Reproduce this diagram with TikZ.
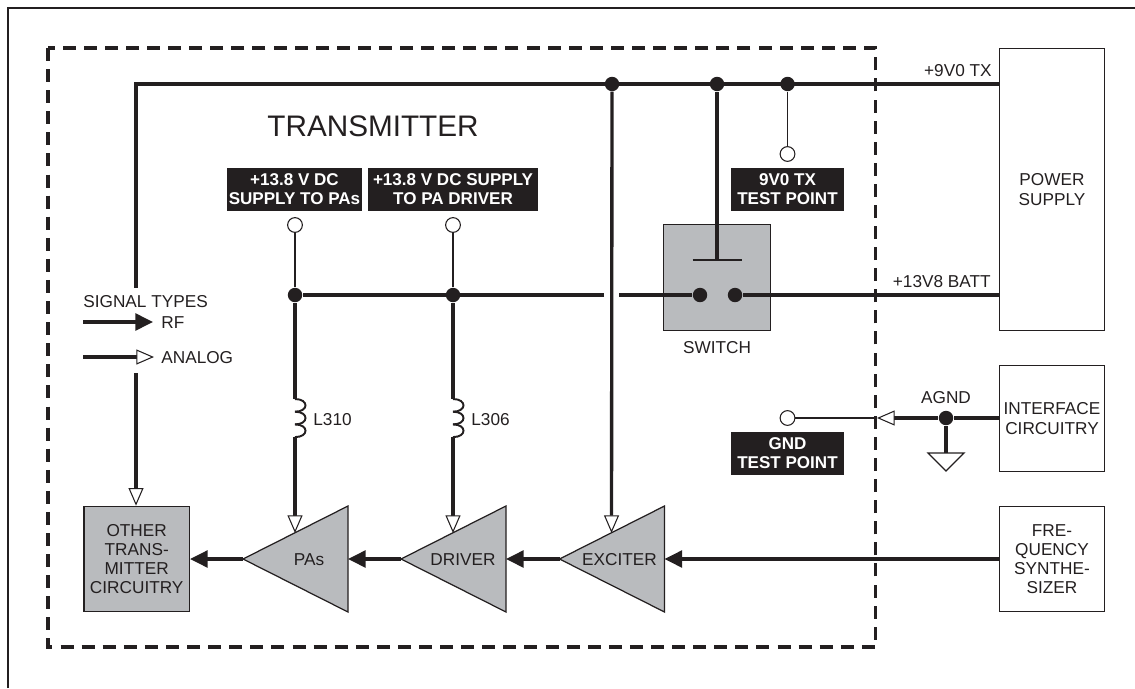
\documentclass[tikz,border=0pt]{standalone}
\usepackage{fontspec}
\setmainfont{Liberation Sans}
\usetikzlibrary{arrows.meta, positioning, calc}

\definecolor{inkdark}{HTML}{231F20}
\definecolor{blockgray}{HTML}{B9BBBE}

\tikzset{
  rfline/.style={draw=inkdark, line width=1.9pt},
  rfarrow/.style={rfline, -{Triangle[length=10pt, width=9.5pt]}},
  analogarrow/.style={rfline, -{Triangle[open, length=10pt, width=8.5pt, line width=0.6pt, fill=white]}},
  thinline/.style={draw=inkdark, line width=0.6pt},
  box/.style={draw=inkdark, line width=0.7pt, inner sep=0pt, align=center, text=inkdark},
  dot/.style={circle, fill=inkdark, inner sep=0pt, minimum size=8.2pt},
  tpoint/.style={circle, draw=inkdark, fill=white, line width=0.6pt, inner sep=0pt, minimum size=8.4pt},
  tag/.style={fill=inkdark, text=white, font=\bfseries\fontsize{9.7}{10.7}\selectfont, align=center, inner sep=0pt},
  lbl/.style={text=inkdark, inner sep=0pt, align=center},
}

\begin{document}
\begin{tikzpicture}[x=0.2mm, y=-0.2mm, font=\fontsize{9.8}{10.9}\selectfont]
\useasboundingbox (0,0) rectangle (1135,688);

% Outer frame and transmitter outline
\draw[inkdark, line width=1.1pt] (8,688) -- (8,8) -- (1135,8);
\draw[inkdark, line width=2pt, dash pattern=on 7.4pt off 4.6pt] (48,48) rectangle (875.7,647);
\node[lbl, font=\fontsize{16.9}{18}\selectfont] (title) at (373,126) {TRANSMITTER};

% Outside blocks
\node[box, minimum width=60pt, minimum height=160.4pt] (psu) at (1052,189.5) {POWER\\SUPPLY};
\node[box, minimum width=60pt, minimum height=60pt] (iface) at (1052,418.5) {INTERFACE\\CIRCUITRY};
\node[box, minimum width=60pt, minimum height=60pt] (synth) at (1052,559) {FRE-\\QUENCY\\SYNTHE-\\SIZER};

% Gray blocks
\node[box, fill=blockgray, minimum width=60pt, minimum height=60pt] (other) at (136.7,559) {OTHER\\TRANS-\\MITTER\\CIRCUITRY};
\node[box, fill=blockgray, minimum width=60.5pt, minimum height=60.5pt] (switch) at (717,277.5) {};
\node[lbl, below=5.5pt of switch] (switchlbl) {SWITCH};

% Amplifiers
\foreach \name/\x/\off/\txt in {pa/243/66/PAs, drv/401/62/DRIVER, exc/559.5/60/EXCITER} {
  \coordinate (\name-in) at (\x+105,559);
  \coordinate (\name-out) at (\x,559);
  \coordinate (\name-top) at (\x+52,533);
  \draw[draw=inkdark, fill=blockgray, line width=0.7pt] (\x,559) -- (\x+105,506) -- (\x+105,612) -- cycle;
  \node[lbl] (\name) at (\x+\off,560) {\txt};
}

% Test point tags
\node[tag, minimum width=76.5pt, minimum height=24.5pt] (tagpa) at (294.5,189.5) {+13.8 V DC\\SUPPLY TO PAs};
\node[tag, minimum width=96.5pt, minimum height=24.5pt] (tagdrv) at (453,189.5) {+13.8 V DC SUPPLY\\TO PA DRIVER};
\node[tag, minimum width=64pt, minimum height=24.5pt] (tagnine) at (787.5,189.5) {9V0 TX\\TEST POINT};
\node[tag, minimum width=64pt, minimum height=24.5pt] (taggnd) at (787.5,453.5) {GND\\TEST POINT};

% Test points
\node[tpoint] (tppa) at (295,225) {};
\node[tpoint] (tpdrv) at (453,225) {};
\node[tpoint] (tpnine) at (787.5,154) {};
\node[tpoint] (tpgnd) at (787.5,418) {};

% Junctions
\node[dot] (jpa) at (295,295) {};
\node[dot] (jdrv) at (453,295) {};
\node[dot] (jexc) at (612,84) {};
\node[dot] (jsw) at (717,84) {};
\node[dot] (jnine) at (787.5,84) {};
\node[dot] (jagnd) at (946,418) {};
\node[dot] (swa) at (700,295) {};
\node[dot] (swb) at (735,295) {};

% Free ends
\coordinate (railcorner) at (136,84);
\coordinate (gapa) at (604,295);
\coordinate (gapb) at (619,295);
\coordinate (gapc) at (136,288);
\coordinate (gapd) at (136,373);
\coordinate (barl) at (692.5,260);
\coordinate (barm) at (717,260);
\coordinate (barr) at (742,260);
\coordinate (gndtip) at (877,418);
\coordinate (gndtop) at (946,453);

% Supply rails
\draw[rfline] (psu.west |- jnine) -- (railcorner) -- (gapc);
\draw[analogarrow] (gapd) -- (other.north -| gapd);
\draw[rfline] (jsw) -- (barm);
\draw[rfline, line width=1.5pt] (barl) -- (barr);
\draw[rfline] (psu.west |- swb) -- (swb);
\draw[rfline] (swa) -- (gapb);
\draw[rfline] (gapa) -- (jpa);
\draw[analogarrow] (jexc) -- (exc-top);
\draw[thinline] (jnine) -- (tpnine);
\draw[thinline] (tppa) -- (jpa);
\draw[thinline] (tpdrv) -- (jdrv);

% Inductors
\foreach \name/\x/\txt/\j in {lpa/295/L310/jpa, ldrv/453/L306/jdrv} {
  \coordinate (\name-a) at (\x,399);
  \coordinate (\name-b) at (\x,437);
  \draw[rfline] (\j) -- (\name-a);
  \foreach \y in {399,411.7,424.4} {
    \draw[inkdark, line width=1.1pt] (\x,\y) .. controls (\x+14,\y) and (\x+14,\y+12.7) .. (\x,\y+12.7);
  }
  \node[lbl, anchor=west] (\name) at (\x+18,420) {\txt};
}
\draw[analogarrow] (lpa-b) -- (pa-top);
\draw[analogarrow] (ldrv-b) -- (drv-top);

% RF chain
\draw[rfarrow] (synth.west |- exc-in) -- (exc-in);
\draw[rfarrow] (exc-out) -- (drv-in);
\draw[rfarrow] (drv-out) -- (pa-in);
\draw[rfarrow] (pa-out) -- (other.east);

% Ground test point
\draw[thinline] (tpgnd) -- (gndtip);
\draw[analogarrow] (jagnd) -- (gndtip);
\draw[rfline] (iface.west |- jagnd) -- (jagnd);
\draw[rfline] (jagnd) -- (gndtop);
\draw[draw=inkdark, fill=white, line width=0.7pt] (928,453) -- (964,453) -- (946,471) -- cycle;

% Signal key
\node[lbl, anchor=west] (keytitle) at (83,302) {SIGNAL TYPES};
\coordinate (rfa) at (83,322);
\coordinate (rfb) at (153,322);
\coordinate (ana) at (83,357);
\coordinate (anb) at (154,357);
\draw[rfarrow] (rfa) -- (rfb);
\draw[analogarrow] (ana) -- (anb);
\node[lbl, anchor=west] (keyrf) at (161,323) {RF};
\node[lbl, anchor=west] (keyanalog) at (161,358) {ANALOG};

% Line labels
\node[lbl, anchor=east] (ninelbl) at (992,71) {+9V0 TX};
\node[lbl, anchor=east] (battlbl) at (991,282) {+13V8 BATT};
\node[lbl] (agndlbl) at (946,398) {AGND};

\end{tikzpicture}
\end{document}
